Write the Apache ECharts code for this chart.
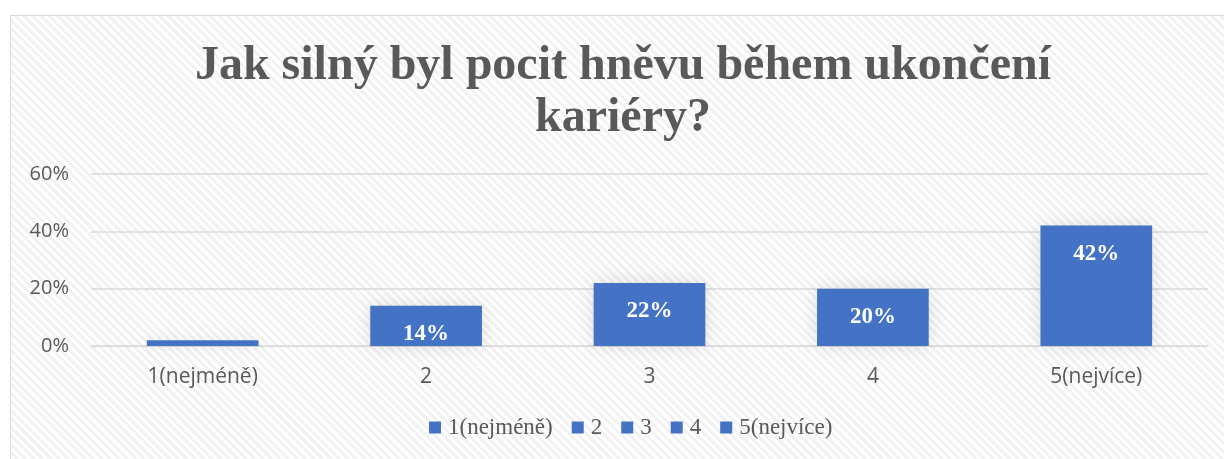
<!DOCTYPE html>
<html>
<head>
<meta charset="utf-8">
<script src="https://cdn.jsdelivr.net/npm/echarts@6/dist/echarts.min.js"></script>
<style>
  body { margin: 0; background: #fff; }
  #wrap { position: relative; width: 1224px; height: 459px; overflow: hidden; }
  #frame {
    position: absolute; left: 10px; top: 15px; width: 1230px; height: 460px;
    border: 1px solid #d9d9d9;
    background: repeating-linear-gradient(45deg, #ffffff 0px, #ffffff 3px, #f2f2f2 3px, #f2f2f2 6px);
  }
  #main { position: absolute; left: 0; top: 0; width: 1224px; height: 459px; }
</style>
</head>
<body>
<div id="wrap">
  <div id="frame"></div>
  <div id="main"></div>
</div>
<script>
// categories on the x axis (also legend entries)
const categories = ['1(nejméně)', '2', '3', '4', '5(nejvíce)']
// share of answers, in percent
const shares = [2, 14, 22, 20, 42]
// y axis ticks
const yMax = 60
const yStep = 20

const titleText = 'Jak silný byl pocit hněvu během ukončení\nkariéry?'

let chart = echarts.init(document.getElementById('main'))

// one series per category so the legend shows every category,
// stacked so every bar stays centred in its own slot
let series = categories.map((name, i) => {
  return {
    name: name,
    type: 'bar',
    stack: 'all',
    barWidth: '50%',
    data: categories.map((c, j) => (j === i ? shares[i] : '-')),
    itemStyle: {
      color: '#4472c4',
      shadowColor: 'rgba(0,0,0,0.12)',
      shadowBlur: 18
    },
    label: {
      // the white label of the tiny first bar falls outside the bar and is not visible
      show: shares[i] >= 5,
      position: 'insideTop',
      distance: 17,
      formatter: '{c}%',
      color: '#ffffff',
      fontFamily: 'Liberation Serif',
      fontWeight: 'bold',
      fontSize: 23
    }
  }
})

let option = {
  animation: false,
  title: {
    text: titleText,
    left: 618,
    textAlign: 'center',
    top: 36,
    textStyle: {
      fontFamily: 'Liberation Serif',
      fontWeight: 'bold',
      fontSize: 48,
      lineHeight: 52,
      color: '#595959'
    }
  },
  legend: {
    bottom: 15,
    left: 424,
    itemWidth: 12,
    itemHeight: 12,
    itemGap: 19,
    icon: 'rect',
    textStyle: {
      fontFamily: 'Liberation Serif',
      fontSize: 23,
      color: '#595959',
      padding: [0, 0, 0, 2]
    },
    data: categories
  },
  grid: {
    left: 91,
    right: 16,
    top: 174,
    bottom: 113
  },
  xAxis: {
    type: 'category',
    data: categories,
    axisLine: { show: true, lineStyle: { color: '#d9d9d9', width: 1 } },
    axisTick: { show: false },
    axisLabel: {
      margin: 21,
      fontFamily: 'Open Sans',
      fontSize: 21,
      color: '#595959'
    }
  },
  yAxis: {
    type: 'value',
    min: 0,
    max: yMax,
    interval: yStep,
    axisLine: { show: false },
    axisTick: { show: false },
    splitLine: { lineStyle: { color: '#d9d9d9', width: 1.5 } },
    axisLabel: {
      formatter: '{value}%',
      margin: 22,
      fontFamily: 'Open Sans',
      fontSize: 20,
      color: '#595959'
    }
  },
  series: series
}

option && chart.setOption(option)
</script>
</body>
</html>
